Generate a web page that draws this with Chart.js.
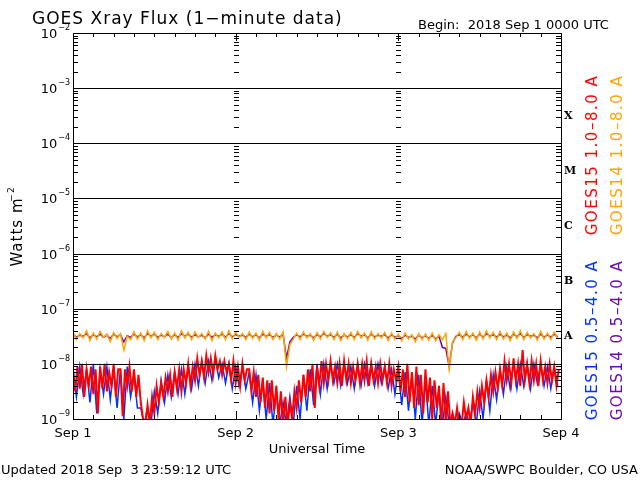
<!DOCTYPE html>
<html>
<head>
<meta charset="utf-8">
<script src="https://cdn.jsdelivr.net/npm/chart.js@4/dist/chart.umd.min.js"></script>
<style>
  html, body { margin: 0; padding: 0; background: #fff; }
  canvas { display: block; }
</style>
</head>
<body>
<canvas id="xray" width="640" height="480"></canvas>
<script>
// log10 of flux
// GOES15 1.0-8.0 A, every 20 minutes
var goes15Long = [
  -8.1,-8.5,-8.05, -8.45,-8.0,-8.6, -8.1,-8.4,-8.05, -8.55,-8.1,-8.9, -8.05,-8.45,-8.0,
  -8.5,-8.15,-8.4, -8.0,-8.6,-8.1, -8.1,-8.95,-8.1, -8.4,-8.05,-8.5, -8.1,-8.6,-8.2,
  -8.7,-9.0,-9.1, -8.75,-9.1,-8.6, -8.9,-8.4,-8.7, -8.35,-8.6,-8.25, -8.5,-8.2,-8.6,
  -8.15,-8.45,-8.1, -8.5,-8.1,-8.35, -8.0,-8.4,-8.05, -8.3,-7.9,-8.2, -7.95,-8.25,-7.85,
  -8.15,-7.9,-8.2, -7.85,-8.1,-7.95, -8.2,-7.95,-8.15, -8.0,-8.3,-7.95, -8.35,-8.05,-8.4,
  -8.0,-8.3,-8.1, -8.1,-8.5,-8.15, -8.6,-8.2,-8.7, -8.25,-8.8,-8.3, -8.9,-8.3,-8.85,
  -8.4,-9.0,-8.5, -9.1,-8.6,-9.1, -8.7,-9.0,-8.5, -8.8,-8.3,-8.7, -8.2,-8.6,-8.1,
  -8.5,-8.0,-8.8, -8.05,-8.4,-7.95, -8.35,-8.0,-8.3, -7.95,-8.3,-8.05, -8.35,-8.0,-8.4,
  -7.95,-8.3,-8.0, -8.35,-8.05,-8.3, -8.0,-8.35,-8.0, -8.3,-7.95,-8.4, -8.0,-8.3,-8.05,
  -8.35,-8.0,-8.3, -8.05,-8.35,-8.0, -8.4,-8.1,-8.3, -8.05,-8.5,-8.1, -8.6,-8.0,-8.7,
  -8.15,-8.8,-8.05, -8.75,-8.2,-8.9, -8.1,-8.7,-8.25, -9.0,-8.3,-8.8, -8.4,-9.1,-8.35,
  -9.1,-8.5,-9.1, -8.9,-9.1,-8.8, -9.1,-9.1,-8.7, -9.0,-8.8,-9.1, -8.6,-8.9,-8.5,
  -8.8,-8.4,-8.7, -8.3,-8.6,-8.2, -8.5,-8.15,-8.45, -8.1,-8.4,-7.95, -8.3,-8.0,-8.35,
  -7.9,-8.3,-8.0, -8.4,-7.75,-8.3, -8.0,-8.35,-7.95, -8.3,-8.0,-8.4, -7.95,-8.3,-8.05,
  -8.35,-8.0,-8.3, -8.05,-8.4,-8.1
];
// GOES15 0.5-4.0 A, every 30 minutes
var goes15Short = [
  -8.1,-8.6, -8.05,-8.55, -8.1,-8.7, -8.0,-8.9, -8.1,-8.55, -8.05,-8.65, -8.1,-8.8, -8.1,-9.0,
  -8.05,-8.6, -8.2,-8.8, -8.8,-9.1, -8.8,-9.1, -8.5,-8.9, -8.3,-8.7, -8.2,-8.6, -8.15,-8.55,
  -8.1,-8.55, -8.05,-8.45, -8.0,-8.4, -7.95,-8.35, -7.95,-8.3, -7.9,-8.25, -8.0,-8.35, -8.0,-8.45,
  -8.05,-8.4, -8.05,-8.45, -8.15,-8.7, -8.2,-8.85, -8.3,-9.0, -8.35,-9.1, -8.5,-9.1, -8.7,-9.1,
  -8.6,-9.1, -8.4,-9.0, -8.2,-8.85, -8.1,-8.75, -8.0,-8.55, -8.0,-8.45, -8.0,-8.35, -8.0,-8.4,
  -8.0,-8.35, -8.05,-8.45, -8.0,-8.4, -8.0,-8.35, -8.0,-8.4, -8.0,-8.35, -8.05,-8.45, -8.1,-8.55,
  -8.1,-8.75, -8.15,-8.85, -8.2,-9.0, -8.2,-9.1, -8.3,-9.1, -8.4,-9.1, -8.5,-9.1, -8.6,-9.1,
  -8.9,-9.1, -8.9,-9.1, -8.9,-9.1, -8.7,-9.1, -8.5,-9.0, -8.3,-8.85, -8.2,-8.65, -8.1,-8.55,
  -8.05,-8.45, -8.0,-8.45, -8.0,-8.4, -8.0,-8.45, -8.0,-8.35, -8.0,-8.4, -8.05,-8.45, -8.05,-8.4
];
// GOES14 1.0-8.0 A, every 30 minutes
var goes14Long = [
  -7.42,-7.56, -7.45,-7.53, -7.40,-7.58, -7.44,-7.55, -7.41,-7.52, -7.46,-7.60, -7.43,-7.54, -7.45,-7.75,
  -7.50,-7.56, -7.42,-7.55, -7.44,-7.58, -7.40,-7.53, -7.43,-7.56, -7.45,-7.52, -7.41,-7.55, -7.44,-7.57,
  -7.40,-7.53, -7.43,-7.56, -7.42,-7.52, -7.45,-7.55, -7.41,-7.58, -7.44,-7.53, -7.42,-7.56, -7.40,-7.55,
  -7.43,-7.52, -7.45,-7.56, -7.42,-7.54, -7.44,-7.57, -7.41,-7.53, -7.43,-7.56, -7.45,-7.55, -7.42,-8.05,
  -7.65,-7.55, -7.44,-7.56, -7.42,-7.53, -7.45,-7.57, -7.43,-7.55, -7.41,-7.52, -7.44,-7.56, -7.42,-7.58,
  -7.45,-7.54, -7.43,-7.56, -7.41,-7.53, -7.44,-7.57, -7.42,-7.55, -7.45,-7.53, -7.43,-7.58, -7.44,-7.56,
  -7.46,-7.58, -7.44,-7.55, -7.47,-7.60, -7.45,-7.56, -7.46,-7.57, -7.44,-7.58, -7.47,-7.56, -7.45,-8.10,
  -7.60,-7.52, -7.43,-7.56, -7.41,-7.54, -7.44,-7.57, -7.42,-7.55, -7.40,-7.53, -7.43,-7.56, -7.41,-7.55,
  -7.44,-7.58, -7.42,-7.54, -7.40,-7.56, -7.43,-7.53, -7.45,-7.57, -7.41,-7.55, -7.44,-7.56, -7.42,-7.54
];
// GOES14 0.5-4.0 A, every 30 minutes
var goes14Short = [
  -7.46,-7.52, -7.48,-7.50, -7.45,-7.53, -7.47,-7.51, -7.46,-7.52, -7.48,-7.54, -7.46,-7.51, -7.47,-7.60,
  -7.49,-7.52, -7.46,-7.51, -7.47,-7.53, -7.45,-7.50, -7.46,-7.52, -7.48,-7.51, -7.46,-7.53, -7.47,-7.52,
  -7.45,-7.50, -7.46,-7.52, -7.47,-7.51, -7.48,-7.53, -7.46,-7.52, -7.47,-7.50, -7.46,-7.52, -7.45,-7.51,
  -7.47,-7.50, -7.48,-7.52, -7.46,-7.51, -7.47,-7.53, -7.46,-7.50, -7.47,-7.52, -7.48,-7.51, -7.47,-7.90,
  -7.60,-7.52, -7.47,-7.51, -7.46,-7.50, -7.48,-7.53, -7.47,-7.51, -7.45,-7.50, -7.47,-7.52, -7.46,-7.53,
  -7.48,-7.51, -7.47,-7.52, -7.45,-7.50, -7.47,-7.53, -7.46,-7.51, -7.48,-7.50, -7.47,-7.53, -7.47,-7.52,
  -7.49,-7.54, -7.48,-7.52, -7.50,-7.55, -7.48,-7.53, -7.49,-7.54, -7.48,-7.55, -7.50,-7.70, -7.72,-8.05,
  -7.62,-7.50, -7.47,-7.52, -7.46,-7.51, -7.47,-7.53, -7.46,-7.52, -7.45,-7.50, -7.47,-7.52, -7.46,-7.51,
  -7.48,-7.53, -7.46,-7.51, -7.45,-7.52, -7.47,-7.50, -7.48,-7.53, -7.46,-7.52, -7.47,-7.52, -7.46,-7.51
];
var dayLabels = ['Sep 1', 'Sep 2', 'Sep 3', 'Sep 4'];
var decadeExps = [-9, -8, -7, -6, -5, -4, -3, -2];
var flareClasses = ['A', 'B', 'C', 'M', 'X'];
var legendItems = [
  { text: 'GOES15 1.0\u20138.0 A', color: '#ff0000' },
  { text: 'GOES14 1.0\u20138.0 A', color: '#ffa500' },
  { text: 'GOES15 0.5\u20134.0 A', color: '#0033ff' },
  { text: 'GOES14 0.5\u20134.0 A', color: '#6a0dad' }
];

function toPoints(arr, perHour) {
  return arr.map(function (v, i) { return { x: i / perHour, y: Math.pow(10, v) }; });
}

var FONT = '"DejaVu Sans", sans-serif';

var framePlugin = {
  id: 'frame',
  afterDatasetsDraw: function (chart) {
    var ctx = chart.ctx;
    var xs = chart.scales.x, ys = chart.scales.y;
    var a = chart.chartArea;
    ctx.save();
    ctx.strokeStyle = '#000';
    ctx.lineWidth = 1;
    // decade lines
    decadeExps.forEach(function (e) {
      var y = Math.round(ys.getPixelForValue(Math.pow(10, e))) + 0.5;
      ctx.beginPath(); ctx.moveTo(a.left, y); ctx.lineTo(a.right, y); ctx.stroke();
    });
    ctx.strokeRect(Math.round(a.left) + 0.5, Math.round(a.top) + 0.5, Math.round(a.right - a.left), Math.round(a.bottom - a.top));
    // minor y ticks at left, day lines and right
    var cols = [a.left, xs.getPixelForValue(24), xs.getPixelForValue(48), a.right];
    for (var e = -9; e < -2; e++) {
      for (var m = 2; m <= 9; m++) {
        var y = Math.round(ys.getPixelForValue(m * Math.pow(10, e))) + 0.5;
        cols.forEach(function (cx, k) {
          cx = Math.round(cx);
          ctx.beginPath();
          if (k === 0) { ctx.moveTo(cx, y); ctx.lineTo(cx + 5, y); }
          else if (k === 3) { ctx.moveTo(cx - 5, y); ctx.lineTo(cx, y); }
          else { ctx.moveTo(cx - 2, y); ctx.lineTo(cx + 3, y); }
          ctx.stroke();
        });
      }
    }
    // x ticks every 3 hours
    for (var h = 0; h <= 72; h += 3) {
      var x = Math.round(xs.getPixelForValue(h)) + 0.5;
      var len = h % 24 === 0 ? 8 : 4;
      ctx.beginPath();
      ctx.moveTo(x, a.bottom); ctx.lineTo(x, a.bottom - len);
      ctx.moveTo(x, a.top); ctx.lineTo(x, a.top + len);
      ctx.stroke();
    }
    // y tick labels
    ctx.fillStyle = '#000';
    decadeExps.forEach(function (e) {
      var y = ys.getPixelForValue(Math.pow(10, e));
      ctx.font = '8px ' + FONT;
      ctx.textAlign = 'left';
      ctx.textBaseline = 'alphabetic';
      var sup = '\u2212' + (-e);
      var sw = ctx.measureText(sup).width;
      ctx.fillText(sup, a.left - 3 - sw, y - 3);
      ctx.font = '13px ' + FONT;
      ctx.textAlign = 'right';
      ctx.fillText('10', a.left - 4 - sw, y + 5);
    });
    // x tick labels
    ctx.font = '13px ' + FONT;
    ctx.textAlign = 'center';
    ctx.textBaseline = 'top';
    dayLabels.forEach(function (d, i) {
      ctx.fillText(d, xs.getPixelForValue(i * 24), a.bottom + 8);
    });
    ctx.fillText('Universal Time', (a.left + a.right) / 2, a.bottom + 24);
    // flare class letters
    ctx.font = 'bold 11px "DejaVu Serif", serif';
    ctx.textAlign = 'left';
    ctx.textBaseline = 'middle';
    flareClasses.forEach(function (c, i) {
      ctx.fillText(c, a.right + 3, ys.getPixelForValue(Math.pow(10, -7.5 + i)));
    });
    // titles
    ctx.textBaseline = 'alphabetic';
    ctx.font = '13px ' + FONT;
    ctx.fillText('Begin:  2018 Sep 1 0000 UTC', 418, 29);
    ctx.fillText('Updated 2018 Sep  3 23:59:12 UTC', 1, 474);
    ctx.textAlign = 'right';
    ctx.fillText('NOAA/SWPC Boulder, CO USA', 638, 474);
    ctx.textAlign = 'left';
    ctx.letterSpacing = '1px';
    ctx.font = '17px ' + FONT;
    ctx.fillText('GOES Xray Flux (1\u2212minute data)', 32, 24);
    // y axis title
    ctx.save();
    ctx.translate(22, 226);
    ctx.rotate(-Math.PI / 2);
    ctx.textAlign = 'center';
    ctx.font = '15px ' + FONT;
    ctx.fillText('Watts m', -6, 0);
    ctx.font = '9px ' + FONT;
    ctx.fillText('\u22122', 32, -8);
    ctx.restore();
    // rotated legend
    ctx.letterSpacing = '1.5px';
    ctx.font = '15px ' + FONT;
    legendItems.forEach(function (it, i) {
      var cx = i % 2 === 0 ? 593 : 618;
      var cy = i < 2 ? 155 : 340;
      ctx.save();
      ctx.translate(cx, cy);
      ctx.rotate(-Math.PI / 2);
      ctx.textAlign = 'center';
      ctx.textBaseline = 'middle';
      ctx.fillStyle = it.color;
      ctx.fillText(it.text, 0, 0);
      ctx.restore();
    });
    ctx.restore();
  }
};

function ds(label, arr, perHour, color, order, width) {
  return {
    label: label, data: toPoints(arr, perHour), borderColor: color,
    borderWidth: width, pointRadius: 0, fill: false, tension: 0, order: order
  };
}

new Chart(document.getElementById('xray'), {
  type: 'line',
  data: {
    datasets: [
      ds('GOES14 1.0-8.0 A', goes14Long, 2, '#ffa500', 1, 1.5),
      ds('GOES14 0.5-4.0 A', goes14Short, 2, '#6a0dad', 2, 1.5),
      ds('GOES15 1.0-8.0 A', goes15Long, 3, '#ff0000', 3, 2),
      ds('GOES15 0.5-4.0 A', goes15Short, 2, '#0033ff', 4, 1.5)
    ]
  },
  options: {
    responsive: false,
    animation: false,
    devicePixelRatio: 1,
    layout: { padding: { left: 73, right: 79, top: 33, bottom: 61 } },
    plugins: { legend: { display: false }, tooltip: { enabled: false } },
    scales: {
      x: { type: 'linear', min: 0, max: 72, display: false },
      y: { type: 'logarithmic', min: 1e-9, max: 1e-2, display: false }
    }
  },
  plugins: [framePlugin]
});
</script>
</body>
</html>
